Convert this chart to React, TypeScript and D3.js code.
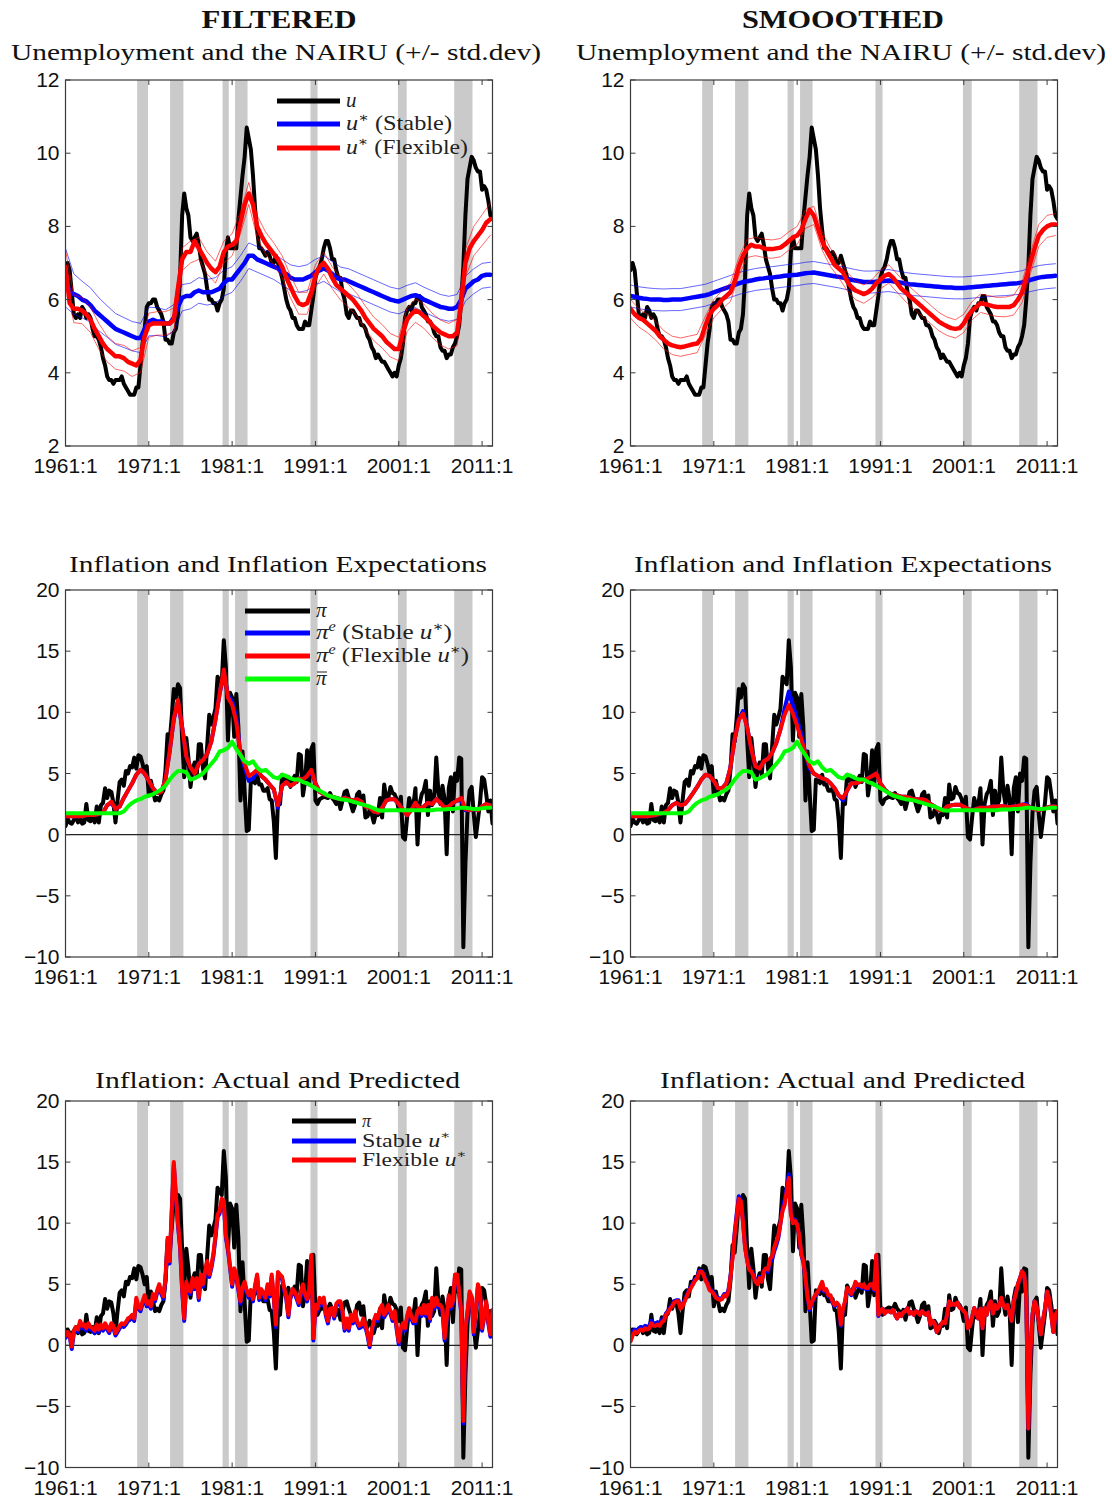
import React from 'react';
import * as d3 from 'd3';

// x axis: quarterly data from 1961:1, axis ends at 2012:2
const START = 1961;
const END = 2012.25;

const recessions = [
  [1969.6, 1970.9], [1973.55, 1975.15], [1979.85, 1980.6], [1981.35, 1982.85],
  [1990.4, 1991.25], [2000.9, 2001.95], [2007.65, 2009.85],
];
const xTicks = [1961, 1971, 1981, 1991, 2001, 2011];
const uTicks = [2, 4, 6, 8, 10, 12];
const piTicks = [-10, -5, 0, 5, 10, 15, 20];

// unemployment rate, quarterly
const uRate = [
  6.8, 7.0, 6.8, 6.2, 5.6, 5.5, 5.6, 5.5, // 1961-62
  5.8, 5.7, 5.5, 5.6, 5.5, 5.2, 5.0, 5.0,
  4.9, 4.7, 4.4, 4.2, 3.9, 3.8, 3.8, 3.7,
  3.8, 3.8, 3.8, 3.9, 3.7, 3.6, 3.5, 3.4,
  3.4, 3.4, 3.6, 3.6, 4.2, 4.8, 5.2, 5.8, // 1969-70
  5.9, 5.9, 6.0, 6.0, 5.8, 5.7, 5.6, 5.4,
  4.9, 4.9, 4.8, 4.8, 5.1, 5.2, 5.6, 6.6,
  8.3, 8.9, 8.5, 8.3, 7.7, 7.6, 7.7, 7.8,
  7.5, 7.1, 6.9, 6.7, 6.3, 6.0, 6.0, 5.9,
  5.9, 5.7, 5.9, 6.0, 6.3, 7.3, 7.7, 7.4, // 1979-80
  7.4, 7.4, 7.4, 8.2, 8.8, 9.4, 9.9, 10.7,
  10.4, 10.1, 9.4, 8.5, 7.9, 7.4, 7.4, 7.3,
  7.2, 7.3, 7.2, 7.0, 7.0, 7.2, 7.0, 6.8,
  6.6, 6.3, 6.0, 5.8, 5.7, 5.5, 5.5, 5.3,
  5.2, 5.2, 5.2, 5.4, 5.3, 5.3, 5.7, 6.1, // 1989-90
  6.6, 6.8, 6.9, 7.1, 7.4, 7.6, 7.6, 7.4,
  7.1, 7.1, 6.8, 6.6, 6.6, 6.2, 6.0, 5.6,
  5.5, 5.7, 5.7, 5.6, 5.5, 5.5, 5.3, 5.3,
  5.2, 5.0, 4.9, 4.7, 4.6, 4.4, 4.5, 4.4,
  4.3, 4.3, 4.2, 4.1, 4.0, 3.9, 4.0, 3.9, // 1999-00
  4.2, 4.4, 4.8, 5.5, 5.7, 5.8, 5.7, 5.9,
  5.9, 6.1, 6.1, 5.8, 5.7, 5.6, 5.4, 5.4,
  5.3, 5.1, 5.0, 5.0, 4.7, 4.6, 4.6, 4.4,
  4.5, 4.5, 4.7, 4.8, 5.0, 5.3, 6.0, 6.9,
  8.3, 9.3, 9.6, 9.9, 9.8, 9.6, 9.5, 9.5, // 2009-10
  9.0, 9.1, 9.0, 8.7, 8.3, 8.2,
];

// NAIRU estimates, half-yearly from 1961:1
const uStarStableF = [
  6.6, 6.2, 6.15, 6.1, 6.0, 5.95, 5.85, 5.7, 5.6, 5.5, // 1961-65
  5.4, 5.3, 5.2, 5.15, 5.1, 5.05, 5.0, 4.95, 4.95, 5.2,
  5.4, 5.45, 5.4, 5.4, 5.35, 5.35, 5.5, 5.8, 6.05, 6.1, // 1971-75
  6.1, 6.2, 6.25, 6.2, 6.2, 6.2, 6.25, 6.3, 6.45, 6.55,
  6.55, 6.7, 6.85, 7.0, 7.2, 7.2, 7.1, 7.05, 7.0, 6.95, // 1981-85
  6.9, 6.85, 6.75, 6.7, 6.6, 6.55, 6.55, 6.55, 6.6, 6.65,
  6.75, 6.8, 6.85, 6.8, 6.7, 6.6, 6.55, 6.55, 6.5, 6.45, // 1991-95
  6.4, 6.35, 6.3, 6.25, 6.2, 6.15, 6.1, 6.05, 6.0, 5.97,
  5.95, 6.0, 6.05, 6.1, 6.12, 6.08, 6.0, 5.95, 5.9, 5.85, // 2001-05
  5.8, 5.78, 5.75, 5.75, 5.8, 6.0, 6.3, 6.4, 6.5, 6.55,
  6.65, 6.68, 6.68,
];
const uStarFlexF = [
  6.9, 5.9, 5.75, 5.75, 5.7, 5.6, 5.45, 5.2, 5.0, 4.8,
  4.65, 4.55, 4.45, 4.45, 4.4, 4.3, 4.25, 4.2, 4.35, 5.0,
  5.3, 5.35, 5.35, 5.35, 5.35, 5.35, 5.45, 6.3, 7.1, 7.3,
  7.3, 7.6, 7.4, 7.2, 7.0, 6.85, 6.75, 6.9, 7.3, 7.45,
  7.5, 7.6, 8.1, 8.6, 8.9, 8.6, 8.0, 7.75, 7.55, 7.4,
  7.25, 7.1, 6.9, 6.6, 6.35, 6.1, 5.9, 5.85, 5.9, 6.2,
  6.65, 6.9, 7.0, 6.85, 6.6, 6.4, 6.3, 6.2, 6.1, 6.0,
  5.85, 5.7, 5.5, 5.35, 5.2, 5.1, 5.0, 4.85, 4.75, 4.65,
  4.65, 5.1, 5.45, 5.6, 5.7, 5.65, 5.55, 5.45, 5.3, 5.2,
  5.1, 5.05, 5.0, 5.0, 5.1, 5.9, 7.0, 7.4, 7.6, 7.75,
  7.9, 8.1, 8.2,
];
const uStarStableS = [
  6.1, 6.08, 6.05, 6.03, 6.02, 6.0, 6.0, 6.0, 5.99, 5.99,
  6.0, 6.0, 6.0, 6.02, 6.04, 6.06, 6.08, 6.1, 6.12, 6.15,
  6.2, 6.24, 6.28, 6.32, 6.36, 6.4, 6.44, 6.48, 6.5, 6.52,
  6.55, 6.57, 6.58, 6.6, 6.6, 6.62, 6.63, 6.65, 6.66, 6.67,
  6.68, 6.7, 6.72, 6.73, 6.74, 6.72, 6.7, 6.68, 6.66, 6.64,
  6.62, 6.6, 6.57, 6.54, 6.52, 6.5, 6.48, 6.48, 6.48, 6.49,
  6.5, 6.51, 6.52, 6.5, 6.48, 6.46, 6.44, 6.42, 6.41, 6.4,
  6.39, 6.38, 6.37, 6.36, 6.35, 6.34, 6.33, 6.33, 6.32, 6.32,
  6.32, 6.33, 6.34, 6.35, 6.36, 6.37, 6.38, 6.39, 6.4, 6.41,
  6.42, 6.43, 6.44, 6.45, 6.47, 6.5, 6.54, 6.57, 6.6, 6.62,
  6.63, 6.64, 6.65,
];
const uStarFlexS = [
  5.75, 5.6, 5.5, 5.45, 5.35, 5.25, 5.15, 5.0, 4.9, 4.8,
  4.75, 4.72, 4.7, 4.72, 4.75, 4.78, 4.8, 4.95, 5.3, 5.6,
  5.75, 5.85, 6.0, 6.1, 6.2, 6.5, 6.9, 7.2, 7.4, 7.5,
  7.45, 7.45, 7.4, 7.38, 7.38, 7.4, 7.42, 7.5, 7.6, 7.7,
  7.75, 7.9, 8.2, 8.45, 8.3, 7.95, 7.6, 7.35, 7.15, 6.95,
  6.85, 6.75, 6.5, 6.35, 6.25, 6.2, 6.15, 6.2, 6.3, 6.45,
  6.55, 6.65, 6.7, 6.6, 6.45, 6.3, 6.2, 6.1, 6.0, 5.9,
  5.8, 5.7, 5.6, 5.5, 5.4, 5.33, 5.27, 5.22, 5.2, 5.22,
  5.35, 5.55, 5.7, 5.8, 5.9, 5.88, 5.85, 5.82, 5.8, 5.8,
  5.8, 5.8, 5.85, 6.0, 6.2, 6.6, 7.0, 7.4, 7.75, 7.9,
  8.0, 8.05, 8.05,
];

// standard deviations of the NAIRU, yearly 1961-2012
const sdStableF = [
  0.8, 0.55, 0.5, 0.47, 0.45, 0.43, 0.42, 0.41, 0.4, 0.4,
  0.39, 0.38, 0.37, 0.36, 0.36, 0.35, 0.35, 0.35, 0.35, 0.35,
  0.35, 0.35, 0.35, 0.35, 0.35, 0.35, 0.35, 0.35, 0.35, 0.35,
  0.35, 0.35, 0.35, 0.34, 0.34, 0.34, 0.34, 0.34, 0.34, 0.34,
  0.34, 0.34, 0.34, 0.34, 0.34, 0.34, 0.34, 0.34, 0.34, 0.34,
  0.34, 0.34,
];
const sdFlexF = [
  0.45, 0.38, 0.36, 0.35, 0.35, 0.35, 0.35, 0.35, 0.35, 0.34,
  0.33, 0.32, 0.32, 0.32, 0.31, 0.3, 0.3, 0.3, 0.3, 0.3,
  0.3, 0.3, 0.3, 0.3, 0.3, 0.3, 0.3, 0.3, 0.3, 0.3,
  0.3, 0.3, 0.3, 0.31, 0.31, 0.31, 0.32, 0.32, 0.32, 0.32,
  0.32, 0.32, 0.32, 0.33, 0.33, 0.34, 0.35, 0.36, 0.38, 0.4,
  0.42, 0.44,
];
const sdStableS = [
  0.3, 0.3, 0.3, 0.3, 0.3, 0.3, 0.3, 0.3, 0.3, 0.3,
  0.3, 0.3, 0.3, 0.3, 0.3, 0.3, 0.3, 0.3, 0.3, 0.3,
  0.3, 0.3, 0.3, 0.3, 0.3, 0.3, 0.3, 0.3, 0.3, 0.3,
  0.3, 0.3, 0.3, 0.3, 0.3, 0.3, 0.3, 0.3, 0.3, 0.3,
  0.3, 0.3, 0.3, 0.3, 0.3, 0.31, 0.31, 0.32, 0.32, 0.33,
  0.33, 0.33,
];
const sdFlexS = [
  0.25, 0.25, 0.25, 0.25, 0.25, 0.25, 0.25, 0.25, 0.25, 0.25,
  0.25, 0.25, 0.25, 0.25, 0.25, 0.25, 0.25, 0.25, 0.25, 0.25,
  0.25, 0.25, 0.25, 0.25, 0.25, 0.25, 0.25, 0.25, 0.25, 0.25,
  0.25, 0.25, 0.25, 0.25, 0.25, 0.25, 0.25, 0.25, 0.25, 0.25,
  0.25, 0.25, 0.25, 0.26, 0.26, 0.27, 0.27, 0.28, 0.29, 0.3,
  0.3, 0.3,
];

// inflation, quarterly annualised
const inflation = [
  0.7, 1.3, 1.0, 0.9, 1.2, 1.5, 1.0, 1.4, // 1961-62
  0.9, 1.0, 2.5, 1.2, 1.1, 1.5, 1.0, 2.3,
  1.0, 2.4, 2.6, 3.8, 3.0, 3.6, 3.5, 2.6,
  1.0, 2.8, 4.3, 4.5, 4.0, 5.2, 5.0, 5.6,
  5.5, 6.3, 5.4, 6.5, 6.4, 5.8, 5.0, 5.6, // 1969-70
  3.2, 4.4, 3.6, 2.8, 3.0, 2.8, 3.3, 3.6,
  5.3, 8.2, 7.6, 9.6, 11.9, 11.2, 12.3, 12.0,
  7.8, 4.7, 7.9, 6.3, 3.9, 5.3, 5.9, 4.8,
  7.4, 7.4, 5.4, 4.6, 7.2, 9.8, 9.0, 9.6,
  10.3, 12.9, 12.6, 12.3, 15.9, 13.7, 7.7, 11.6, // 1979-80
  11.2, 8.0, 11.5, 8.8, 2.8, 6.8, 3.5, 0.3,
  0.4, 4.5, 4.4, 4.2, 4.9, 4.1, 4.1, 3.6,
  3.6, 3.8, 2.9, 2.8, 1.1, -1.9, 2.8, 2.5,
  4.9, 4.5, 4.2, 4.7, 3.9, 4.4, 4.8, 4.3,
  6.6, 6.5, 3.2, 4.3, 6.9, 4.1, 7.0, 7.4, // 1989-90
  2.8, 2.5, 2.9, 3.0, 3.1, 3.05, 3.0, 3.4,
  3.0, 2.8, 2.5, 2.9, 2.1, 2.8, 3.5, 3.6,
  3.0, 2.5, 1.9, 2.4, 3.3, 3.5, 2.5, 3.2,
  1.4, 1.5, 2.0, 1.7, 1.0, 1.7, 1.6, 3.0,
  1.4, 4.1, 2.9, 3.0, 3.9, 3.4, 3.3, 2.9, // 1999-00
  2.0, 3.1, -0.2, -0.4, 1.4, 3.0, 2.3, 2.4,
  3.8, -0.8, 2.5, 3.3, 3.6, 4.4, 1.6, 3.6,
  2.4, 2.8, 6.3, 3.6, 2.5, 4.0, 2.9, -1.6,
  3.8, 4.7, 1.9, 5.0, 4.4, 6.3, 6.2, -9.2,
  -2.4, 1.8, 3.6, 3.9, 1.7, -0.2, 1.2, 2.6, // 2009-10
  4.7, 4.5, 3.3, 1.9, 2.8, 0.9,
];

// inflation expectations and trend inflation, half-yearly from 1961:1
const piEFlexF = [
  1.5, 1.5, 1.5, 1.5, 1.5, 1.6, 1.6, 1.6, 1.7, 1.8,
  2.4, 2.7, 2.1, 2.3, 3.0, 3.6, 4.2, 4.9, 5.3, 5.0,
  4.4, 3.8, 3.4, 3.5, 4.5, 6.8, 9.5, 11.0, 8.8, 6.4,
  5.5, 5.0, 5.8, 6.1, 6.6, 7.6, 9.4, 11.5, 13.5, 11.2,
  10.6, 9.2, 6.6, 5.8, 4.8, 5.0, 5.3, 4.8, 4.5, 4.1,
  3.7, 2.4, 4.0, 4.3, 4.0, 4.2, 4.6, 4.5, 4.8, 5.3,
  4.2, 3.5, 3.3, 3.2, 3.1, 3.0, 2.9, 3.0, 2.9, 2.8,
  2.9, 2.7, 2.3, 2.2, 1.9, 1.8, 2.2, 2.8, 2.9, 2.9,
  2.5, 2.0, 1.6, 2.0, 2.6, 2.1, 2.3, 2.6, 2.5, 2.9,
  2.6, 2.2, 2.3, 2.6, 2.8, 3.0, 2.1, 2.0, 2.1, 2.0,
  2.3, 2.5, 2.4,
];
const piEStableF = [
  1.5, 1.5, 1.5, 1.5, 1.5, 1.6, 1.6, 1.6, 1.7, 1.8,
  2.4, 2.6, 2.1, 2.3, 3.0, 3.6, 4.2, 4.9, 5.3, 5.0,
  4.4, 3.8, 3.4, 3.5, 4.5, 6.8, 9.4, 10.9, 8.8, 6.4,
  5.5, 5.0, 5.8, 6.1, 6.6, 7.6, 9.4, 11.5, 13.2, 11.4,
  10.9, 9.6, 6.6, 5.5, 4.4, 4.6, 5.2, 4.8, 4.5, 4.1,
  3.7, 2.2, 4.0, 4.3, 4.0, 4.2, 4.6, 4.5, 4.8, 5.1,
  4.2, 3.5, 3.3, 3.2, 3.1, 3.0, 2.9, 3.0, 2.9, 2.8,
  2.9, 2.7, 2.3, 2.2, 1.9, 1.8, 2.2, 2.8, 2.9, 2.9,
  2.5, 2.0, 1.6, 2.0, 2.6, 2.1, 2.3, 2.6, 2.5, 2.9,
  2.6, 2.2, 2.3, 2.6, 2.8, 2.8, 2.0, 2.0, 2.1, 2.0,
  2.3, 2.5, 2.4,
];
const piEFlexS = [
  1.5, 1.5, 1.5, 1.5, 1.5, 1.55, 1.6, 1.7, 1.8, 2.0,
  2.4, 2.6, 2.4, 2.5, 2.9, 3.4, 3.9, 4.5, 4.9, 4.8,
  4.4, 3.8, 3.8, 4.2, 5.5, 7.8, 9.4, 9.9, 8.8, 7.0,
  5.6, 5.4, 6.0, 6.2, 6.7, 7.5, 8.6, 9.8, 10.6, 9.9,
  8.9, 7.8, 6.6, 5.6, 5.0, 4.8, 4.6, 4.5, 4.2, 3.8,
  3.2, 3.0, 3.6, 4.2, 4.2, 4.3, 4.5, 4.6, 4.8, 5.0,
  4.2, 3.7, 3.4, 3.3, 3.2, 3.1, 3.1, 3.0, 2.9, 2.9,
  2.9, 2.8, 2.5, 2.3, 2.0, 2.0, 2.3, 2.4, 2.45, 2.45,
  2.3, 2.1, 2.0, 2.1, 2.2, 2.2, 2.2, 2.3, 2.3, 2.35,
  2.3, 2.25, 2.3, 2.35, 2.45, 2.4, 2.2, 2.1, 2.0, 2.1,
  2.2, 2.3, 2.3,
];
const piEStableS = [
  1.5, 1.5, 1.5, 1.5, 1.5, 1.55, 1.6, 1.7, 1.8, 2.0,
  2.4, 2.6, 2.4, 2.5, 2.9, 3.4, 3.9, 4.5, 4.9, 4.8,
  4.4, 3.8, 3.8, 4.2, 5.5, 7.8, 9.4, 10.1, 8.8, 7.0,
  5.6, 5.4, 6.0, 6.2, 6.7, 7.5, 8.6, 10.3, 11.7, 10.6,
  9.4, 8.2, 6.6, 5.4, 5.0, 4.8, 4.6, 4.5, 4.2, 3.8,
  3.2, 2.8, 3.6, 4.2, 4.2, 4.3, 4.5, 4.6, 4.8, 5.0,
  4.2, 3.7, 3.4, 3.3, 3.2, 3.1, 3.1, 3.0, 2.9, 2.9,
  2.9, 2.8, 2.5, 2.3, 2.0, 2.0, 2.3, 2.4, 2.45, 2.45,
  2.3, 2.1, 2.0, 2.1, 2.2, 2.2, 2.2, 2.3, 2.3, 2.35,
  2.3, 2.25, 2.3, 2.35, 2.45, 2.5, 2.2, 2.1, 2.0, 2.1,
  2.2, 2.3, 2.3,
];
const piBar = [
  1.75, 1.75, 1.75, 1.75, 1.75, 1.75, 1.75, 1.75, 1.75, 1.75,
  1.75, 1.75, 1.75, 1.75, 1.9, 2.3, 2.6, 2.8, 2.9, 3.1,
  3.2, 3.3, 3.5, 3.7, 4.0, 4.5, 4.9, 5.2, 5.2, 5.1,
  4.5, 4.6, 4.8, 5.0, 5.4, 5.8, 6.2, 6.8, 6.9, 7.1,
  7.6, 7.0, 6.5, 6.0, 5.8, 6.0, 5.5, 5.2, 5.3, 5.0,
  4.7, 4.6, 4.9, 4.8, 4.6, 4.5, 4.5, 4.3, 4.2, 4.0,
  3.8, 3.6, 3.4, 3.2, 3.1, 3.0, 2.9, 2.85, 2.8, 2.7,
  2.6, 2.5, 2.4, 2.3, 2.15, 2.0, 1.95, 2.0, 2.0, 2.0,
  2.0, 2.0, 2.0, 2.0, 2.0, 2.0, 2.0, 2.0, 2.0, 2.05,
  2.05, 2.05, 2.1, 2.1, 2.15, 2.2, 2.2, 2.15, 2.1, 2.1,
  2.15, 2.2, 2.2,
];

// predicted inflation, quarterly
const predFlexF = [
  0.8, 1.1, 0.9, -0.1, 1.2, 1.5, 1.3, 2.0,
  1.6, 1.7, 1.4, 1.8, 1.5, 1.4, 1.2, 1.7,
  1.3, 1.7, 1.4, 1.8, 1.5, 1.2, 1.8, 1.6,
  1.0, 1.3, 1.6, 1.8, 1.7, 1.9, 2.2, 2.3,
  2.5, 2.2, 3.9, 3.2, 3.0, 3.6, 4.1, 3.4,
  3.6, 3.2, 4.2, 3.8, 4.5, 5.0, 4.4, 4.0,
  5.5, 8.8, 6.9, 11.0, 15.0, 12.3, 10.0, 8.2,
  4.7, 2.2, 5.2, 4.5, 4.4, 5.5, 4.8, 5.5,
  3.9, 5.8, 5.0, 6.0, 6.9, 5.8, 6.5, 7.5,
  9.0, 10.7, 11.0, 12.0, 11.8, 9.0, 8.0, 6.5,
  5.0, 6.3, 5.8, 4.7, 3.6, 4.8, 5.2, 4.5,
  4.1, 4.5, 3.8, 4.9, 5.8, 3.9, 4.6, 4.3,
  3.9, 5.0, 4.2, 5.8, 4.0, 1.7, 6.0, 5.8,
  5.6, 4.7, 4.0, 2.5, 4.1, 4.6, 4.4, 4.0,
  3.5, 4.4, 5.0, 4.2, 3.8, 4.5, 7.4, 0.6,
  3.3, 3.0, 3.9, 3.5, 3.9, 2.6, 2.0, 3.0,
  3.05, 2.4, 3.4, 3.6, 3.6, 2.8, 1.4, 2.2,
  1.4, 2.5, 2.0, 2.8, 2.0, 1.6, 1.7, 2.2,
  1.7, 1.0, 0.05, 1.2, 2.0, 2.5, 2.2, 3.0,
  3.3, 2.5, 2.8, 3.3, 2.8, 2.2, 2.8, 1.5,
  0.3, 1.4, 1.8, 1.4, 2.4, 3.05, 2.4, 2.0,
  2.0, 2.8, 3.05, 2.6, 3.3, 2.6, 3.3, 2.2,
  3.9, 3.2, 3.9, 3.3, 3.3, 3.0, 0.6, 2.2,
  4.1, 3.2, 3.6, 5.8, 5.8, 4.4, 2.8, -6.2,
  1.4, 2.8, 4.4, 4.0, 1.1, 3.0, 5.0, 4.5,
  1.4, 2.5, 3.6, 2.0, 0.9, 2.9,
];
const predStableF = [
  0.6, 0.9, 0.7, -0.3, 1.0, 1.3, 1.1, 1.8,
  1.4, 1.5, 1.2, 1.6, 1.3, 1.2, 1.0, 1.5,
  1.1, 1.5, 1.2, 1.6, 1.3, 1.0, 1.6, 1.4,
  0.8, 1.1, 1.4, 1.6, 1.5, 1.7, 2.0, 2.1,
  2.3, 2.0, 3.7, 3.0, 2.8, 3.4, 3.9, 3.2,
  3.4, 3.0, 4.0, 3.6, 4.3, 4.8, 4.2, 3.8,
  5.3, 8.6, 6.7, 10.8, 14.8, 12.1, 9.8, 8.0,
  4.5, 2.0, 5.0, 4.3, 4.2, 5.3, 4.6, 5.3,
  3.7, 5.6, 4.8, 5.8, 6.7, 5.6, 6.3, 7.3,
  8.8, 10.5, 10.8, 11.8, 11.6, 8.8, 7.8, 6.3,
  4.8, 6.1, 5.6, 4.5, 3.4, 4.6, 5.0, 4.3,
  3.9, 4.3, 3.6, 4.7, 5.6, 3.7, 4.4, 4.1,
  3.7, 4.8, 4.0, 5.6, 3.8, 1.5, 5.8, 5.6,
  5.4, 4.5, 3.8, 2.3, 3.9, 4.4, 4.2, 3.8,
  3.3, 4.2, 4.8, 4.0, 3.6, 4.3, 7.2, 0.4,
  3.1, 2.8, 3.7, 3.3, 3.7, 2.4, 1.8, 2.8,
  2.85, 2.2, 3.2, 3.4, 3.4, 2.6, 1.2, 2.0,
  1.2, 2.3, 1.8, 2.6, 1.8, 1.4, 1.5, 2.0,
  1.5, 0.8, -0.15, 1.0, 1.8, 2.3, 2.0, 2.8,
  3.1, 2.3, 2.6, 3.1, 2.6, 2.0, 2.6, 1.3,
  0.1, 1.2, 1.6, 1.2, 2.2, 2.85, 2.2, 1.8,
  1.8, 2.6, 2.85, 2.4, 3.1, 2.4, 3.1, 2.0,
  3.7, 3.0, 3.7, 3.1, 3.1, 2.8, 0.4, 2.0,
  3.9, 3.0, 3.4, 5.6, 5.6, 4.2, 2.6, -6.4,
  1.2, 2.6, 4.2, 3.8, 0.9, 2.8, 4.8, 4.3,
  1.2, 2.3, 3.4, 1.8, 0.7, 2.7,
];
const predFlexS = [
  0.3, 0.8, 1.1, 1.0, 1.2, 1.3, 1.2, 1.4,
  1.3, 1.4, 1.8, 1.6, 1.6, 1.7, 1.6, 1.9,
  2.0, 2.5, 2.7, 3.0, 3.2, 3.5, 3.6, 3.6,
  3.0, 3.2, 3.6, 4.0, 4.4, 4.7, 5.0, 5.3,
  5.5, 6.0, 6.05, 5.8, 5.3, 5.0, 4.5, 4.4,
  4.2, 3.9, 3.8, 3.7, 3.8, 4.1, 4.0, 4.4,
  5.5, 7.1, 9.0, 10.5, 12.0, 11.8, 10.1, 8.0,
  6.9, 6.2, 6.05, 5.7, 5.2, 5.0, 5.5, 5.2,
  6.05, 6.3, 6.2, 7.1, 7.3, 8.0, 8.5, 9.0,
  10.0, 11.0, 11.5, 12.6, 13.7, 10.7, 10.0, 10.2,
  9.9, 9.0, 7.5, 6.9, 5.5, 4.0, 3.05, 3.5,
  3.9, 4.2, 4.4, 4.8, 5.2, 4.5, 4.6, 4.1,
  4.1, 3.6, 3.3, 3.5, 3.3, 1.7, 3.0, 3.6,
  4.7, 4.5, 4.2, 4.6, 5.2, 4.9, 5.0, 4.8,
  5.0, 4.7, 4.7, 5.0, 5.0, 4.6, 7.4, 2.5,
  2.8, 3.0, 2.6, 2.8, 2.8, 2.7, 2.9, 2.5,
  2.2, 2.6, 2.4, 2.7, 2.8, 3.05, 2.6, 2.7,
  2.5, 2.8, 2.7, 2.5, 2.8, 2.6, 2.5, 2.7,
  1.7, 2.0, 1.8, 1.1, 1.4, 1.7, 1.9, 1.8,
  2.5, 3.6, 3.3, 3.4, 3.3, 3.5, 3.1, 3.0,
  2.8, 2.6, 1.4, 1.6, 2.3, 3.05, 2.6, 2.2,
  3.0, 1.4, 3.05, 2.5, 3.3, 3.6, 2.6, 3.3,
  3.0, 3.2, 3.9, 3.3, 3.05, 3.3, 2.6, 2.0,
  3.6, 4.2, 5.0, 5.5, 6.05, 5.8, 4.0, -6.8,
  -0.5, 2.5, 3.6, 3.2, 2.0, 0.9, 2.0, 3.0,
  4.4, 3.8, 2.5, 1.1, 2.5, 2.8,
];
const predStableS = [
  0.6, 1.1, 1.3, 1.2, 1.4, 1.5, 1.4, 1.6,
  1.5, 1.6, 2.0, 1.8, 1.8, 1.9, 1.8, 2.1,
  2.1, 2.6, 2.8, 3.1, 3.3, 3.6, 3.7, 3.7,
  3.1, 3.3, 3.7, 4.1, 4.5, 4.8, 5.1, 5.4,
  5.6, 6.1, 6.1, 5.9, 5.4, 5.1, 4.6, 4.5,
  4.3, 4.0, 3.9, 3.8, 3.9, 4.2, 4.1, 4.5,
  5.6, 7.3, 9.2, 10.8, 12.2, 11.9, 10.2, 8.1,
  7.0, 6.3, 6.1, 5.8, 5.3, 5.1, 5.6, 5.3,
  6.1, 6.2, 6.0, 6.8, 7.0, 7.7, 8.2, 8.8,
  10.0, 11.2, 11.9, 12.9, 14.0, 10.9, 10.1, 10.3,
  9.9, 9.0, 7.4, 6.8, 5.4, 3.9, 2.9, 3.4,
  3.8, 4.1, 4.3, 4.7, 5.1, 4.4, 4.5, 4.0,
  4.0, 3.5, 3.2, 3.4, 3.2, 1.6, 2.9, 3.5,
  4.6, 4.4, 4.1, 4.5, 5.1, 4.8, 4.9, 4.7,
  4.9, 4.6, 4.6, 4.9, 4.9, 4.5, 7.3, 2.4,
  2.8, 3.0, 2.6, 2.8, 2.8, 2.7, 2.9, 2.5,
  2.2, 2.6, 2.4, 2.7, 2.8, 3.05, 2.6, 2.7,
  2.5, 2.8, 2.7, 2.5, 2.8, 2.6, 2.5, 2.7,
  1.7, 2.0, 1.8, 1.1, 1.4, 1.7, 1.9, 1.8,
  2.5, 3.6, 3.3, 3.4, 3.3, 3.5, 3.1, 3.0,
  2.8, 2.6, 1.4, 1.6, 2.3, 3.05, 2.6, 2.2,
  3.0, 1.4, 3.05, 2.5, 3.3, 3.6, 2.6, 3.3,
  3.0, 3.2, 3.9, 3.3, 3.05, 3.3, 2.6, 2.0,
  3.6, 4.2, 5.0, 5.5, 6.05, 5.8, 4.0, -6.8,
  -0.5, 2.5, 3.6, 3.2, 2.0, 0.9, 2.0, 3.0,
  4.4, 3.8, 2.5, 1.1, 2.3, 2.6,
];

type Pt = [number, number];
type Layer = { pts: Pt[]; color: string; width: number; opacity?: number };

const quarterly = (v: number[]): Pt[] => v.map((d, i) => [START + i / 4, d]);
const halfYear = (v: number[]): Pt[] => v.map((d, i) => [START + i / 2, d]);
const band = (center: number[], sd: number[], sign: number): Pt[] =>
  sd.map((s, i) => [START + i, center[2 * i] + sign * s]);

const PW = 427;
const LEFT = [65.5, 630.5];
const SERIF = '"Liberation Serif", "DejaVu Serif", serif';
const SANS = '"Liberation Sans", Arial, sans-serif';
const BLUE = '#0000ff';
const RED = '#ff0000';
const GREEN = '#00ff00';

function Panel({ left, top, height, yDomain, yTicks, layers, zero, id }: {
  left: number; top: number; height: number; yDomain: [number, number];
  yTicks: number[]; layers: Layer[]; zero?: boolean; id: string;
}) {
  const x = d3.scaleLinear().domain([START, END]).range([left, left + PW]);
  const y = d3.scaleLinear().domain(yDomain).range([top + height, top]);
  const line = d3.line<Pt>().x(d => x(d[0])).y(d => y(d[1]));
  const bottom = top + height;
  const fmt = d3.format('d');
  return (
    <g>
      <defs>
        <clipPath id={id}><rect x={left} y={top} width={PW} height={height} /></clipPath>
      </defs>
      {recessions.map(([a, b], i) => (
        <rect key={i} x={x(a)} y={top} width={x(b) - x(a)} height={height} fill="#cacaca" />
      ))}
      {zero && <line x1={left} x2={left + PW} y1={y(0)} y2={y(0)} stroke="#222" strokeWidth={1.2} />}
      <g clipPath={`url(#${id})`}>
        {layers.map((l, i) => (
          <path key={i} d={line(l.pts) ?? ''} fill="none" stroke={l.color} strokeWidth={l.width}
            strokeOpacity={l.opacity ?? 1} strokeLinejoin="round" strokeLinecap="round" />
        ))}
      </g>
      <rect x={left} y={top} width={PW} height={height} fill="none" stroke="#3a3a3a" strokeWidth={1.2} />
      {xTicks.map(t => (
        <g key={t}>
          <line x1={x(t)} x2={x(t)} y1={bottom} y2={bottom - 5} stroke="#3a3a3a" />
          <line x1={x(t)} x2={x(t)} y1={top} y2={top + 5} stroke="#3a3a3a" />
          <text x={x(t)} y={bottom + 27} textAnchor="middle" fontFamily={SANS} fontSize={21} fill="#111">{`${t}:1`}</text>
        </g>
      ))}
      {yTicks.map(t => (
        <g key={t}>
          <line x1={left} x2={left + 5} y1={y(t)} y2={y(t)} stroke="#3a3a3a" />
          <line x1={left + PW} x2={left + PW - 5} y1={y(t)} y2={y(t)} stroke="#3a3a3a" />
          <text x={left - 6} y={y(t) + 7} textAnchor="end" fontFamily={SANS} fontSize={21} fill="#111">{fmt(t)}</text>
        </g>
      ))}
    </g>
  );
}

const I = ({ children }: { children: React.ReactNode }) => <tspan fontStyle="italic">{children}</tspan>;
// raised glyph, then the text after it goes back to the baseline
const Sup = ({ children }: { children: React.ReactNode }) => <tspan fontSize="0.65em" dy={-8}>{children}</tspan>;
const After = ({ children }: { children: React.ReactNode }) => <tspan dy={8}>{children}</tspan>;

type Item = { y: number; color: string; label: React.ReactNode; len?: number; bar?: boolean };

function Legend({ x1, x2, size, items }: { x1: number; x2: number; size: number; items: Item[] }) {
  return (
    <g>
      {items.map((it, i) => (
        <g key={i}>
          <line x1={x1} x2={x2} y1={it.y} y2={it.y} stroke={it.color} strokeWidth={5} />
          <text x={x2 + 6} y={it.y + 6} fontFamily={SERIF} fontSize={size} fill="#222"
            textLength={it.len} lengthAdjust={it.len ? 'spacingAndGlyphs' : undefined}>{it.label}</text>
          {it.bar && <line x1={x2 + 7} x2={x2 + 17} y1={it.y - 7} y2={it.y - 7} stroke="#222" strokeWidth={1} />}
        </g>
      ))}
    </g>
  );
}

function Title({ x, y, text, len, bold }: { x: number; y: number; text: string; len: number; bold?: boolean }) {
  return (
    <text x={x} y={y} textAnchor="middle" fontFamily={SERIF} fontSize={bold ? 25 : 24}
      fontWeight={bold ? 'bold' : 'normal'} textLength={len} lengthAdjust="spacingAndGlyphs" fill="#111">
      {text}
    </text>
  );
}

export default function App() {
  const uLayers = (stable: number[], flex: number[], sdS: number[], sdF: number[]): Layer[] => [
    { pts: quarterly(uRate), color: '#000', width: 4 },
    { pts: band(stable, sdS, 1), color: BLUE, width: 1, opacity: 0.6 },
    { pts: band(stable, sdS, -1), color: BLUE, width: 1, opacity: 0.6 },
    { pts: halfYear(stable), color: BLUE, width: 4.5 },
    { pts: band(flex, sdF, 1), color: RED, width: 1, opacity: 0.6 },
    { pts: band(flex, sdF, -1), color: RED, width: 1, opacity: 0.6 },
    { pts: halfYear(flex), color: RED, width: 4.5 },
  ];
  const eLayers = (stable: number[], flex: number[]): Layer[] => [
    { pts: quarterly(inflation), color: '#000', width: 4 },
    { pts: halfYear(stable), color: BLUE, width: 4 },
    { pts: halfYear(flex), color: RED, width: 4 },
    { pts: halfYear(piBar), color: GREEN, width: 4 },
  ];
  const pLayers = (stable: number[], flex: number[]): Layer[] => [
    { pts: quarterly(inflation), color: '#000', width: 4 },
    { pts: quarterly(stable), color: BLUE, width: 4 },
    { pts: quarterly(flex), color: RED, width: 4 },
  ];

  return (
    <div style={{ position: 'absolute', left: 0, top: 0 }}>
      <svg width={1112} height={1501} style={{ display: 'block', background: '#fff' }}>
        <Title x={279} y={28} text="FILTERED" len={155} bold />
        <Title x={843} y={28} text="SMOOOTHED" len={202} bold />
        <Title x={276} y={60} text="Unemployment and the NAIRU (+/- std.dev)" len={530} />
        <Title x={841} y={60} text="Unemployment and the NAIRU (+/- std.dev)" len={530} />
        <Title x={278} y={572} text="Inflation and Inflation Expectations" len={418} />
        <Title x={843} y={572} text="Inflation and Inflation Expectations" len={418} />
        <Title x={277.5} y={1088} text="Inflation: Actual and Predicted" len={365} />
        <Title x={842.5} y={1088} text="Inflation: Actual and Predicted" len={365} />

        <Panel id="c1" left={LEFT[0]} top={80} height={366} yDomain={[2, 12]} yTicks={uTicks}
          layers={uLayers(uStarStableF, uStarFlexF, sdStableF, sdFlexF)} />
        <Panel id="c2" left={LEFT[1]} top={80} height={366} yDomain={[2, 12]} yTicks={uTicks}
          layers={uLayers(uStarStableS, uStarFlexS, sdStableS, sdFlexS)} />
        <Panel id="c3" left={LEFT[0]} top={590} height={367} yDomain={[-10, 20]} yTicks={piTicks} zero
          layers={eLayers(piEStableF, piEFlexF)} />
        <Panel id="c4" left={LEFT[1]} top={590} height={367} yDomain={[-10, 20]} yTicks={piTicks} zero
          layers={eLayers(piEStableS, piEFlexS)} />
        <Panel id="c5" left={LEFT[0]} top={1101} height={366.5} yDomain={[-10, 20]} yTicks={piTicks} zero
          layers={pLayers(predStableF, predFlexF)} />
        <Panel id="c6" left={LEFT[1]} top={1101} height={366.5} yDomain={[-10, 20]} yTicks={piTicks} zero
          layers={pLayers(predStableS, predFlexS)} />

        <Legend x1={277} x2={340} size={21} items={[
          { y: 101, color: '#000', label: <I>u</I> },
          { y: 124, color: BLUE, len: 106, label: <><I>u</I><Sup>∗</Sup><After>{' (Stable)'}</After></> },
          { y: 148, color: RED, len: 122, label: <><I>u</I><Sup>∗</Sup><After>{' (Flexible)'}</After></> },
        ]} />
        <Legend x1={245} x2={310} size={21} items={[
          { y: 611, color: '#000', label: <I>π</I> },
          { y: 633, color: BLUE, len: 136, label: <><I>π</I><Sup><I>e</I></Sup><After>{' (Stable '}<I>u</I></After><Sup>∗</Sup><After>)</After></> },
          { y: 656, color: RED, len: 153, label: <><I>π</I><Sup><I>e</I></Sup><After>{' (Flexible '}<I>u</I></After><Sup>∗</Sup><After>)</After></> },
          { y: 679, color: GREEN, label: <I>π</I>, bar: true },
        ]} />
        <Legend x1={292} x2={356} size={18} items={[
          { y: 1121, color: '#000', label: <I>π</I> },
          { y: 1141, color: BLUE, len: 89, label: <>{'Stable '}<I>u</I><Sup>∗</Sup></> },
          { y: 1160, color: RED, len: 105, label: <>{'Flexible '}<I>u</I><Sup>∗</Sup></> },
        ]} />
      </svg>
    </div>
  );
}
